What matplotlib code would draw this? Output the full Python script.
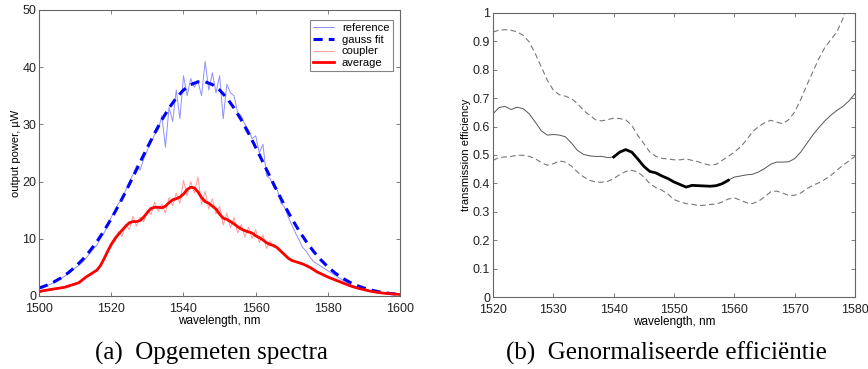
import matplotlib
matplotlib.use("Agg")
import matplotlib.pyplot as plt
import numpy as np

# --- (a) measured spectra ---
wl = np.arange(1500, 1601)  # nm, 1 nm steps
reference = [1.2, 1.5, 1.8, 2.0, 2.3, 2.6, 3.0, 3.4, 3.9, 4.4,
             4.9, 5.3, 5.9, 6.6, 7.4, 8.2, 8.9, 10.0, 11.0, 12.3,
             13.8, 14.8, 16.2, 16.9, 18.5, 20.0, 21.2, 22.8, 22.0, 24.0,
             25.5, 26.8, 28.2, 29.0, 31.5, 26.0, 33.0, 30.5, 36.0, 31.0,
             38.5, 35.0, 38.0, 36.5, 37.5, 35.0, 41.0, 36.0, 39.0, 35.5,
             38.5, 31.0, 37.0, 35.5, 35.0, 32.0, 31.5, 30.0, 29.0, 27.5,
             28.0, 25.0, 26.5, 21.0, 20.5, 19.0, 18.5, 16.2, 15.5, 13.8,
             12.4, 11.0, 9.8, 8.5, 7.8, 6.8, 6.0, 5.6, 5.2, 4.8,
             4.4, 4.0, 3.6, 3.2, 2.8, 2.4, 2.1, 1.8, 1.5, 1.3,
             1.1, 0.9, 0.8, 0.6, 0.5, 0.45, 0.4, 0.35, 0.3, 0.25, 0.2]
average = [0.7, 0.9, 1.0, 1.1, 1.2, 1.3, 1.4, 1.5, 1.7, 1.9,
           2.1, 2.3, 2.8, 3.3, 3.7, 4.1, 4.5, 5.3, 6.5, 7.8,
           9.0, 10.0, 10.8, 11.5, 12.2, 12.8, 13.0, 13.0, 13.2, 13.8,
           14.6, 15.3, 15.5, 15.5, 15.4, 15.7, 16.3, 16.8, 17.0, 17.3,
           17.8, 18.6, 19.0, 18.9, 18.2, 17.2, 16.5, 16.2, 15.7, 15.2,
           14.3, 13.6, 13.4, 13.0, 12.6, 12.1, 11.7, 11.4, 11.2, 11.0,
           10.5, 10.2, 9.8, 9.3, 9.0, 8.8, 8.4, 7.8, 7.2, 6.6,
           6.2, 6.0, 5.8, 5.6, 5.3, 5.0, 4.6, 4.2, 3.9, 3.6,
           3.3, 3.05, 2.8, 2.55, 2.3, 2.05, 1.8, 1.6, 1.4, 1.25,
           1.1, 0.95, 0.8, 0.7, 0.6, 0.52, 0.45, 0.4, 0.35, 0.3, 0.25]
coupler = [0.8, 1.0, 1.1, 1.2, 1.3, 1.4, 1.5, 1.6, 1.8, 2.0,
           2.2, 2.4, 2.9, 3.3, 3.7, 4.1, 4.6, 5.5, 6.3, 8.0,
           9.3, 9.5, 11.2, 10.4, 12.5, 11.6, 13.9, 12.2, 13.8, 13.0,
           15.0, 14.2, 16.4, 14.8, 16.0, 14.5, 17.2, 15.8, 18.0, 16.2,
           20.2, 17.5, 20.0, 18.0, 20.8, 16.0, 18.3, 15.2, 17.0, 14.3,
           15.7, 12.4, 14.5, 11.9, 13.7, 11.0, 12.5, 10.3, 12.0, 10.0,
           11.6, 9.3, 10.7, 8.3, 9.6, 8.5, 8.7, 7.6, 7.4, 6.5,
           6.4, 6.0, 5.9, 5.6, 5.4, 5.0, 4.7, 4.2, 4.0, 3.6,
           3.3, 3.1, 2.8, 2.6, 2.3, 2.1, 1.8, 1.6, 1.4, 1.25,
           1.1, 0.95, 0.8, 0.7, 0.6, 0.52, 0.45, 0.4, 0.35, 0.3, 0.25]
wl_fit = np.arange(1500, 1601, 2)
gauss_fit = [1.37, 1.83, 2.41, 3.12, 4.00, 5.07, 6.33, 7.80, 9.49, 11.40,
             13.50, 15.80, 18.24, 20.79, 23.39, 25.96, 28.46, 30.78, 32.85, 34.62,
             36.00, 36.95, 37.44, 37.44, 36.95, 36.00, 34.62, 32.85, 30.78, 28.46,
             25.96, 23.39, 20.79, 18.24, 15.80, 13.50, 11.40, 9.49, 7.80, 6.33,
             5.07, 4.00, 3.12, 2.41, 1.83, 1.37, 1.02, 0.74, 0.53, 0.38, 0.27]

# --- (b) normalised efficiency ---
wl_b = np.arange(1520, 1581)
eff = [0.645, 0.667, 0.671, 0.660, 0.668, 0.663, 0.645, 0.616, 0.585, 0.570,
       0.572, 0.570, 0.564, 0.542, 0.516, 0.502, 0.497, 0.495, 0.495, 0.491,
       0.493, 0.510, 0.519, 0.510, 0.486, 0.460, 0.442, 0.437, 0.426, 0.417,
       0.405, 0.396, 0.387, 0.393, 0.392, 0.391, 0.390, 0.392, 0.399, 0.411,
       0.422, 0.426, 0.430, 0.432, 0.440, 0.452, 0.467, 0.475, 0.475, 0.476,
       0.487, 0.510, 0.540, 0.570, 0.596, 0.620, 0.640, 0.657, 0.671, 0.690, 0.716]
eff_upper = [0.933, 0.939, 0.941, 0.939, 0.933, 0.921, 0.898, 0.857, 0.810, 0.763,
             0.728, 0.712, 0.707, 0.698, 0.681, 0.657, 0.640, 0.624, 0.620, 0.624,
             0.630, 0.628, 0.624, 0.604, 0.569, 0.540, 0.510, 0.495, 0.488, 0.486,
             0.483, 0.483, 0.486, 0.481, 0.476, 0.469, 0.464, 0.467, 0.481, 0.495,
             0.510, 0.528, 0.552, 0.581, 0.600, 0.613, 0.622, 0.616, 0.610, 0.624,
             0.651, 0.695, 0.745, 0.792, 0.839, 0.878, 0.906, 0.933, 0.980, 1.040, 1.100]
eff_lower = [0.481, 0.491, 0.493, 0.495, 0.499, 0.499, 0.495, 0.487, 0.473, 0.464,
             0.469, 0.479, 0.475, 0.461, 0.440, 0.423, 0.411, 0.405, 0.404, 0.407,
             0.417, 0.431, 0.442, 0.446, 0.440, 0.423, 0.399, 0.385, 0.376, 0.362,
             0.343, 0.335, 0.329, 0.327, 0.322, 0.323, 0.326, 0.327, 0.335, 0.345,
             0.349, 0.341, 0.332, 0.329, 0.337, 0.352, 0.370, 0.373, 0.366, 0.358,
             0.358, 0.366, 0.381, 0.393, 0.402, 0.414, 0.428, 0.446, 0.464, 0.479, 0.495]
band_lo, band_hi = 1540, 1559  # highlighted range

plt.rcParams['font.family'] = ['Liberation Sans', 'DejaVu Sans']
fig = plt.figure(figsize=(8.68, 3.69), dpi=100)
ax1 = fig.add_axes([0.045, 0.198, 0.416, 0.775])
ax2 = fig.add_axes([0.568, 0.195, 0.417, 0.770])

ax1.plot(wl, reference, color='#8f8fff', lw=0.7, label='reference')
ax1.plot(wl_fit, gauss_fit, color='#0000ff', lw=2.2, ls=(0, (3, 2)), label='gauss fit')
ax1.plot(wl, coupler, color='#ff9a9a', lw=0.7, label='coupler')
ax1.plot(wl, average, color='#ff0000', lw=2.0, label='average')
ax1.set_xlim(1500, 1600)
ax1.set_ylim(0, 50)
ax1.set_xticks(np.arange(1500, 1601, 20))
ax1.set_yticks(np.arange(0, 51, 10))
ax1.set_xlabel('wavelength, nm', fontsize=8.5, labelpad=0)
ax1.set_ylabel('output power, \u00b5W', fontsize=8, labelpad=1)
leg = ax1.legend(loc='upper right', fontsize=8, frameon=True, fancybox=False,
                 handlelength=1.9, borderpad=0.3, labelspacing=0.15,
                 handletextpad=0.7, bbox_to_anchor=(0.995, 0.985))
leg.get_frame().set_edgecolor('#666666')
leg.get_frame().set_linewidth(0.8)

ax2.plot(wl_b, eff, color='#555555', lw=0.7)
mask = (wl_b >= band_lo) & (wl_b <= band_hi)
ax2.plot(wl_b[mask], np.array(eff)[mask], color='black', lw=2.0)
ax2.plot(wl_b, eff_upper, color='#777777', lw=0.8, ls=(0, (5, 3)))
ax2.plot(wl_b, eff_lower, color='#777777', lw=0.8, ls=(0, (5, 3)))
ax2.set_xlim(1520, 1580)
ax2.set_ylim(0, 1)
ax2.set_xticks(np.arange(1520, 1581, 10))
ax2.set_yticks(np.arange(0, 1.01, 0.1))
ax2.set_yticklabels(['0', '0.1', '0.2', '0.3', '0.4', '0.5', '0.6', '0.7', '0.8', '0.9', '1'])
ax2.set_xlabel('wavelength, nm', fontsize=8.5, labelpad=0)
ax2.set_ylabel('transmission efficiency', fontsize=8, labelpad=1)

for ax in (ax1, ax2):
    ax.tick_params(direction='in', top=True, right=True, labelsize=9,
                   length=3, width=0.6, color='#666666', labelcolor='#222222')
    ax.tick_params(axis='x', pad=5)
    ax.tick_params(axis='y', pad=2)
    for s in ax.spines.values():
        s.set_color('#666666')
        s.set_linewidth(0.8)

fig.text(0.244, 0.043, '(a)  Opgemeten spectra', ha='center', va='center',
         fontsize=18, family='Liberation Serif')
fig.text(0.768, 0.043, '(b)  Genormaliseerde effici\u00ebntie', ha='center', va='center',
         fontsize=18, family='Liberation Serif')

fig.savefig('out.png', dpi=100)
